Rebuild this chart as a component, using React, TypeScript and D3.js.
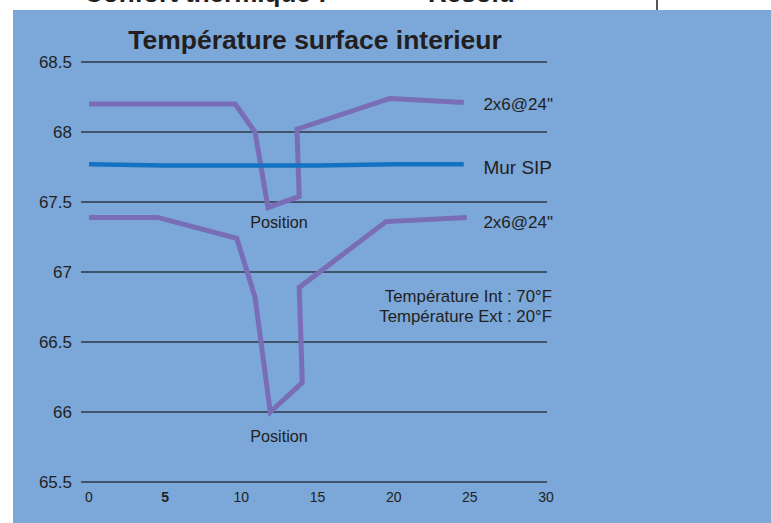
import * as d3 from 'd3';
import React from "react";

const WIDTH = 771;
const HEIGHT = 523;
const FONT = "'Liberation Sans', Arial, Helvetica, sans-serif";
const BG = "#7ba7d9";
const INK = "#231f20";
const PURPLE = "#7a6db8";
const BLUE = "#1572c2";

// x positions (cm) and temperatures (°F)
const studTopX = [0, 9.6, 10.9, 11.75, 13.8, 13.65, 19.75, 24.6];
const studTopY = [68.2, 68.2, 68.0, 67.46, 67.54, 68.02, 68.24, 68.21];
const sipX = [0, 5, 10, 15, 20, 24.6];
const sipY = [67.77, 67.76, 67.76, 67.76, 67.77, 67.77];
const studLowX = [0, 4.5, 9.7, 10.9, 11.9, 14.0, 13.8, 19.5, 24.8];
const studLowY = [67.39, 67.39, 67.24, 66.82, 66.0, 66.21, 66.89, 67.36, 67.39];

const yTicks = [65.5, 66, 66.5, 67, 67.5, 68, 68.5];
const xTicks = [0, 5, 10, 15, 20, 25, 30];

const x = d3.scaleLinear().domain([0, 30]).range([89, 546]);
const y = d3.scaleLinear().domain([65.5, 68.5]).range([482, 62]);

const line = d3.line<[number, number]>()
    .x(d => x(d[0]))
    .y(d => y(d[1]));

const zip = (xs: number[], ys: number[]) => xs.map((v, i) => [v, ys[i]] as [number, number]);

export default function App() {
    return (
        <svg width={WIDTH} height={HEIGHT} style={{position: 'absolute', left: 0, top: 0}}
             fontFamily={FONT}>
            <rect x={0} y={0} width={WIDTH} height={HEIGHT} fill="#ffffff"/>
            {/* page heading above the panel, cut off by the crop */}
            <text x={84} y={2} fontSize={26} fontWeight="bold" fill={INK}>Confort thermique :</text>
            <text x={428} y={2} fontSize={26} fontWeight="bold" fill={INK}>Résolu</text>
            <line x1={657} x2={657} y1={0} y2={10} stroke={INK} strokeWidth={1.5}/>
            <rect x={13} y={10} width={WIDTH - 13} height={HEIGHT - 10} fill={BG}/>

            <text x={315} y={49} textAnchor="middle" fontSize={26.5} fontWeight="bold" fill={INK}>
                Température surface interieur
            </text>

            {yTicks.map(t => (
                <g key={t}>
                    <line x1={81} x2={547} y1={y(t)} y2={y(t)} stroke="#2f3846" strokeWidth={1.5}/>
                    <text x={72} y={y(t)} dy="0.35em" textAnchor="end" fontSize={17} fill={INK}>{t}</text>
                </g>
            ))}
            {xTicks.map(t => (
                <text key={t} x={x(t)} y={497} dy="0.35em" textAnchor="middle" fontSize={14}
                      fontWeight={t === 5 ? "bold" : "normal"} fill={INK}>{t}</text>
            ))}

            <path d={line(zip(studTopX, studTopY)) || ""} fill="none" stroke={PURPLE} strokeWidth={5}
                  strokeLinejoin="miter"/>
            <path d={line(zip(studLowX, studLowY)) || ""} fill="none" stroke={PURPLE} strokeWidth={5}
                  strokeLinejoin="miter"/>
            <path d={line(zip(sipX, sipY)) || ""} fill="none" stroke={BLUE} strokeWidth={4.5}/>

            <text x={553} y={104} dy="0.35em" textAnchor="end" fontSize={17} fill={INK}>2x6@24"</text>
            <text x={552} y={167} dy="0.35em" textAnchor="end" fontSize={19} fill={INK}>Mur SIP</text>
            <text x={553} y={222} dy="0.35em" textAnchor="end" fontSize={17} fill={INK}>2x6@24"</text>
            <text x={552} y={296} dy="0.35em" textAnchor="end" fontSize={16.8} fill={INK}>Température Int : 70°F</text>
            <text x={552} y={316} dy="0.35em" textAnchor="end" fontSize={16.8} fill={INK}>Température Ext : 20°F</text>

            <text x={279} y={222} dy="0.35em" textAnchor="middle" fontSize={16.2} fill={INK}>Position</text>
            <text x={279} y={436} dy="0.35em" textAnchor="middle" fontSize={16.2} fill={INK}>Position</text>
        </svg>
    );
}
